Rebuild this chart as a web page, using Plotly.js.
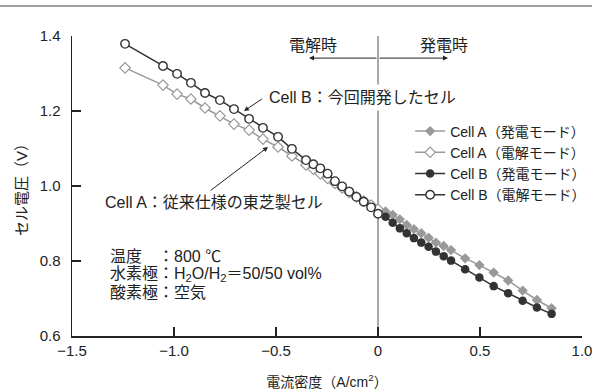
<!DOCTYPE html>
<html><head><meta charset="utf-8">
<script src="https://cdn.plot.ly/plotly-3.0.1.min.js"></script>
<style>html,body{margin:0;padding:0;background:#fff}</style>
</head><body>
<div id="chart" style="width:592px;height:390px"></div>
<script>
const xElec = [-1.240,-1.054,-0.985,-0.917,-0.848,-0.775,-0.706,-0.632,-0.564,-0.490,-0.422,-0.353,-0.317,-0.283,-0.247,-0.211,-0.176,-0.141,-0.106,-0.070,-0.034,0.0];
const yB_elec = [1.379,1.320,1.299,1.275,1.248,1.229,1.205,1.179,1.155,1.131,1.099,1.069,1.058,1.047,1.033,1.013,0.999,0.985,0.971,0.958,0.943,0.926];
const yA_elec = [1.315,1.269,1.245,1.232,1.208,1.187,1.165,1.149,1.125,1.104,1.080,1.056,1.045,1.033,1.020,1.007,0.995,0.983,0.971,0.960,0.949,0.938];
const xPower = [0.037,0.072,0.107,0.141,0.176,0.212,0.248,0.284,0.322,0.358,0.427,0.497,0.567,0.638,0.709,0.779,0.851];
const yA_power = [0.932,0.923,0.911,0.896,0.885,0.874,0.862,0.849,0.840,0.829,0.807,0.789,0.769,0.748,0.721,0.696,0.674];
const yB_power = [0.918,0.902,0.887,0.874,0.861,0.849,0.838,0.825,0.813,0.801,0.778,0.756,0.733,0.714,0.694,0.676,0.659];
const seriesNames = ['Cell A（発電モード）','Cell A（電解モード）','Cell B（発電モード）','Cell B（電解モード）'];
const xTickVals = [-1.5,-1.0,-0.5,0,0.5,1.0];
const xTickText = ['−1.5','−1.0','−0.5','0','0.5','1.0'];
const yTickVals = [0.6,0.8,1.0,1.2,1.4];

const FONT = 'Liberation Sans, Arial, "Noto Sans CJK JP", sans-serif';
const grayA = '#999999', darkB = '#333333';

const traces = [
  {x:xPower, y:yA_power, name:seriesNames[0], mode:'lines+markers',
   line:{color:grayA,width:1.5}, marker:{symbol:'diamond',size:8,color:grayA}},
  {x:xElec, y:yA_elec, name:seriesNames[1], mode:'lines+markers',
   line:{color:grayA,width:1.5}, marker:{symbol:'diamond',size:8,color:'#ffffff',line:{color:grayA,width:1.2}}},
  {x:xPower, y:yB_power, name:seriesNames[2], mode:'lines+markers',
   line:{color:darkB,width:1.5}, marker:{symbol:'circle',size:8.5,color:darkB}},
  {x:xElec, y:yB_elec, name:seriesNames[3], mode:'lines+markers',
   line:{color:darkB,width:1.5}, marker:{symbol:'circle',size:8.5,color:'#ffffff',line:{color:darkB,width:1.4}}}
];

const txt = (t,x,y,extra) => Object.assign({text:t,x:x,y:y,xref:'x',yref:'y',showarrow:false,
  font:{family:FONT,size:16,color:'#222'}},extra||{});
const arr = (x,y,ax,ay) => ({x:x,y:y,ax:ax,ay:ay,xref:'x',yref:'y',axref:'x',ayref:'y',text:'',
  showarrow:true,arrowhead:2,arrowsize:1,arrowwidth:1,arrowcolor:'#222'});

const layout = {
  width:592, height:390,
  margin:{l:72,r:10,t:36,b:54,autoexpand:false},
  paper_bgcolor:'#fff', plot_bgcolor:'#fff',
  font:{family:FONT,size:15,color:'#222'},
  showlegend:true,
  legend:{x:0.663,y:0.735,xanchor:'left',yanchor:'top',bgcolor:'rgba(0,0,0,0)',
    font:{family:FONT,size:14,color:'#222'},tracegroupgap:0,itemwidth:30},
  xaxis:{range:[-1.5,1.0],tickvals:xTickVals,ticktext:xTickText,showgrid:false,zeroline:false,automargin:false,
    ticklabeloverflow:'allow',
    showline:true,linecolor:'#222',linewidth:1.5,ticks:'inside',ticklen:9,tickwidth:1.2,tickcolor:'#222',
    tickfont:{family:FONT,size:15,color:'#222'},
    title:{text:'電流密度（A/cm<sup>2</sup>）',font:{family:FONT,size:14,color:'#222'},standoff:20}},
  yaxis:{range:[0.6,1.4],tickvals:yTickVals,tickformat:'.1f',showgrid:false,zeroline:false,automargin:false,
    ticklabelstandoff:7,
    showline:true,linecolor:'#222',linewidth:1.5,ticks:'inside',ticklen:9,tickwidth:1.2,tickcolor:'#222',
    tickfont:{family:FONT,size:15,color:'#222'},
    title:{text:'セル電圧（V）',font:{family:FONT,size:15,color:'#222'},standoff:8}},
  shapes:[
    {type:'line',xref:'x',yref:'y',x0:0,x1:0,y0:0.6,y1:1.4,line:{color:'#555',width:1},layer:'below'},
    {type:'line',xref:'paper',yref:'paper',x0:-0.141,x1:1.02,y0:1.1,y1:1.1,line:{color:'#808080',width:1.3},layer:'above'}
  ],
  annotations:[
    txt('電解時',-0.319,1.376),
    txt('発電時',0.324,1.376),
    arr(-0.338,1.341,0,1.341),
    arr(0.343,1.341,0,1.341),
    txt('Cell B：今回開発したセル',-0.075,1.237,{bgcolor:'#fff',borderpad:4}),
    arr(-0.657,1.200,-0.561,1.235),
    txt('Cell A：従来仕様の東芝製セル',-0.806,0.957),
    arr(-0.539,1.104,-0.828,0.985),
    txt('温度　：800 ℃',-1.324,0.813,{xanchor:'left'}),
    txt('水素極：H<sub>2</sub>O/H<sub>2</sub>＝50/50 vol%',-1.324,0.765,{xanchor:'left'}),
    txt('酸素極：空気',-1.324,0.715,{xanchor:'left'})
  ]
};
Plotly.newPlot('chart',traces,layout,{displayModeBar:false,staticPlot:true});
</script>
</body></html>
